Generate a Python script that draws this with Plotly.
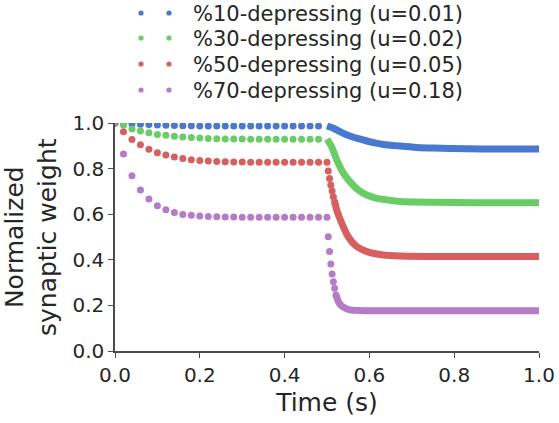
import plotly.graph_objects as go

# ---------------- data ----------------
t_low = [round(0.02 * i, 2) for i in range(25)]  # 50 Hz spike times 0 .. 0.48 s

blue_low = [1.0, 0.998, 0.996, 0.994, 0.993, 0.991, 0.990, 0.989, 0.988, 0.988,
            0.987, 0.987, 0.987, 0.987, 0.987, 0.987, 0.987, 0.987, 0.987, 0.987,
            0.987, 0.987, 0.987, 0.987, 0.987]
green_low = [1.0, 0.991, 0.974, 0.965, 0.957, 0.950, 0.946, 0.942, 0.939, 0.936,
             0.934, 0.932, 0.931, 0.930, 0.930, 0.930, 0.929, 0.929, 0.929, 0.929,
             0.929, 0.929, 0.929, 0.929, 0.929]
red_low = [1.0, 0.962, 0.928, 0.905, 0.885, 0.870, 0.860, 0.851, 0.844, 0.839,
           0.835, 0.833, 0.831, 0.830, 0.829, 0.829, 0.828, 0.828, 0.828, 0.828,
           0.828, 0.828, 0.828, 0.828, 0.828]
purple_low = [1.0, 0.864, 0.769, 0.706, 0.667, 0.637, 0.620, 0.608, 0.599, 0.595,
              0.592, 0.590, 0.589, 0.588, 0.588, 0.587, 0.587, 0.587, 0.587, 0.587,
              0.587, 0.587, 0.587, 0.587, 0.587]

# high-rate part: discrete dots still visible at the start of the drop
red_dot_t = [0.500, 0.503, 0.506, 0.509, 0.512, 0.515, 0.518]
red_dot_v = [0.828, 0.789, 0.757, 0.728, 0.702, 0.677, 0.655]
purple_dot_t = [0.500, 0.503, 0.506, 0.509, 0.512, 0.515, 0.518, 0.521]
purple_dot_v = [0.587, 0.501, 0.436, 0.382, 0.338, 0.304, 0.275, 0.246]

# high-rate part: dots merged into a thick band
blue_hi_t = [0.500, 0.515, 0.535, 0.554, 0.574, 0.594, 0.613, 0.633, 0.672, 0.712, 0.751, 0.829, 0.900, 1.000]
blue_hi_v = [0.987, 0.977, 0.958, 0.943, 0.931, 0.921, 0.913, 0.906, 0.899, 0.893, 0.890, 0.887, 0.886, 0.886]
green_hi_t = [0.500, 0.511, 0.523, 0.539, 0.554, 0.574, 0.594, 0.613, 0.633, 0.672, 0.712, 0.751, 0.850, 1.000]
green_hi_v = [0.929, 0.896, 0.838, 0.779, 0.743, 0.706, 0.684, 0.672, 0.665, 0.656, 0.653, 0.652, 0.650, 0.650]
red_hi_t = [0.518, 0.523, 0.535, 0.550, 0.570, 0.594, 0.633, 0.672, 0.750, 1.000]
red_hi_v = [0.655, 0.618, 0.560, 0.501, 0.458, 0.436, 0.421, 0.417, 0.415, 0.414]
purple_hi_t = [0.521, 0.527, 0.533, 0.539, 0.554, 0.574, 0.600, 1.000]
purple_hi_v = [0.246, 0.216, 0.200, 0.192, 0.180, 0.178, 0.177, 0.177]

labels = ["%10-depressing (u=0.01)", "%30-depressing (u=0.02)",
          "%50-depressing (u=0.05)", "%70-depressing (u=0.18)"]
colors = ["#4878CF", "#6ACC65", "#D65F5F", "#B47CC7"]

x_ticks = [0.0, 0.2, 0.4, 0.6, 0.8, 1.0]
y_ticks = [0.0, 0.2, 0.4, 0.6, 0.8, 1.0]

# ---------------- figure ----------------
FONT = "DejaVu Sans"
TXT = "#262626"
MS = 7
LW = 7

series = [
    (blue_low, None, None, blue_hi_t, blue_hi_v),
    (green_low, None, None, green_hi_t, green_hi_v),
    (red_low, red_dot_t, red_dot_v, red_hi_t, red_hi_v),
    (purple_low, purple_dot_t, purple_dot_v, purple_hi_t, purple_hi_v),
]

fig = go.Figure()
for (low, dt, dv, ht, hv), col, lab in zip(series, colors, labels):
    fig.add_trace(go.Scatter(x=t_low, y=low, mode="markers", name=lab,
                             marker=dict(color=col, size=MS, line=dict(width=0)),
                             showlegend=False))
    if dt is not None:
        fig.add_trace(go.Scatter(x=dt, y=dv, mode="markers", showlegend=False,
                                 marker=dict(color=col, size=MS, line=dict(width=0))))
    fig.add_trace(go.Scatter(x=ht, y=hv, mode="lines", showlegend=False,
                             line=dict(color=col, width=LW, shape="spline", smoothing=0.6)))

# manual legend (two dots per entry, as in the reference)
W, H = 559, 423
L, R, T, B = 115, 20, 123, 72
pw, ph = W - L - R, H - T - B

def px_x(p):
    return (p - L) / pw

def px_y(p):
    return (H - B - p) / ph

row_y = [13, 38, 64, 90]
shapes = []
annotations = []
for ry, col, lab in zip(row_y, colors, labels):
    for dx in (141, 169):
        shapes.append(dict(type="circle", xref="paper", yref="paper",
                           xsizemode="pixel", ysizemode="pixel",
                           xanchor=px_x(dx), yanchor=px_y(ry),
                           x0=-2.6, x1=2.6, y0=-2.6, y1=2.6,
                           fillcolor=col, line=dict(width=0)))
    annotations.append(dict(xref="paper", yref="paper", x=px_x(191), y=px_y(ry + 1),
                            xanchor="left", yanchor="middle", showarrow=False,
                            text=lab, font=dict(family=FONT, size=21, color=TXT)))

# y-axis title as two centred lines
annotations.append(dict(xref="paper", yref="paper", x=px_x(31), y=0.5,
                        xanchor="center", yanchor="middle", showarrow=False,
                        textangle=-90, text="Normalized<br>synaptic weight",
                        font=dict(family=FONT, size=25, color=TXT)))

axis_common = dict(showgrid=False, zeroline=False, showline=True,
                   linecolor="#4a4a4a", linewidth=1.5,
                   ticks="outside", ticklen=5, tickwidth=1.3, tickcolor="#4a4a4a",
                   tickfont=dict(family=FONT, size=20, color=TXT),
                   mirror=False, tickformat=".1f", automargin=False)

fig.update_layout(
    width=W, height=H,
    margin=dict(l=L, r=R, t=T, b=B, pad=0),
    plot_bgcolor="white", paper_bgcolor="white",
    showlegend=False,
    shapes=shapes, annotations=annotations,
    xaxis=dict(range=[0, 1], tickvals=x_ticks,
               title=dict(text="Time (s)", font=dict(family=FONT, size=25, color=TXT), standoff=8),
               **axis_common),
    yaxis=dict(range=[0, 1], tickvals=y_ticks, **axis_common),
)

fig.write_html("out.html", config={"displayModeBar": False},
               post_script="document.body.style.margin='0';document.body.style.overflow='hidden';")
